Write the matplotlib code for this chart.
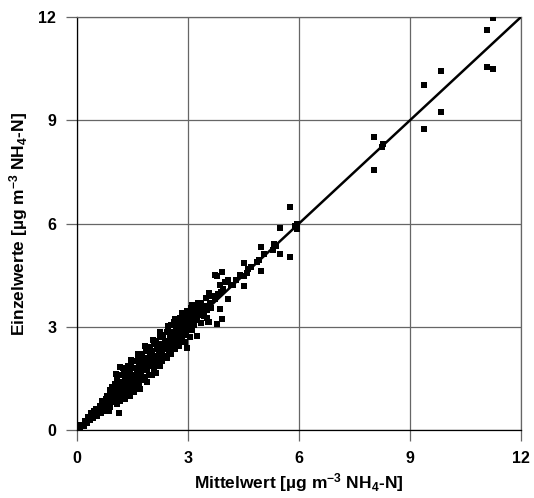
import matplotlib
matplotlib.use("Agg")
import matplotlib.pyplot as plt

plt.rcParams['font.family'] = ['Liberation Sans', 'DejaVu Sans']
plt.rcParams['font.weight'] = 'bold'
plt.rcParams['mathtext.fontset'] = 'custom'
plt.rcParams['mathtext.rm'] = 'Liberation Sans:bold'
plt.rcParams['mathtext.default'] = 'rm'

# Mittelwert (x) / Einzelwerte (y)
mittel = [
    0.08, 0.12, 0.18, 0.22, 0.28, 0.30, 0.35, 0.38, 0.42, 0.45,
    0.48, 0.52, 0.55, 0.58, 0.62, 0.65, 0.68, 0.70, 0.72, 0.75,
    0.78, 0.78, 0.82, 0.84, 0.86, 0.88, 0.90, 0.92, 0.95, 0.96,
    0.98, 1.02, 1.03, 1.05, 1.07, 1.08, 1.10, 1.12, 1.14, 1.15,
    1.16, 1.18, 1.19, 1.21, 1.22, 1.24, 1.26, 1.27, 1.29, 1.30,
    1.32, 1.34, 1.35, 1.37, 1.38, 1.39, 1.41, 1.42, 1.44, 1.45,
    1.47, 1.48, 1.50, 1.52, 1.53, 1.55, 1.56, 1.58, 1.59, 1.61,
    1.62, 1.64, 1.65, 1.67, 1.68, 1.70, 1.71, 1.73, 1.74, 1.76,
    1.77, 1.79, 1.81, 1.82, 1.84, 1.85, 1.87, 1.88, 1.90, 1.91,
    1.93, 1.94, 1.96, 1.97, 1.99, 2.01, 2.02, 2.04, 2.05, 2.07,
    2.08, 2.10, 2.11, 2.13, 2.14, 2.16, 2.18, 2.19, 2.21, 2.22,
    2.24, 2.25, 2.27, 2.28, 2.30, 2.31, 2.33, 2.35, 2.37, 2.38,
    2.41, 2.42, 2.44, 2.45, 2.47, 2.48, 2.50, 2.52, 2.53, 2.55,
    2.57, 2.58, 2.61, 2.62, 2.64, 2.66, 2.67, 2.69, 2.70, 2.72,
    2.74, 2.75, 2.77, 2.79, 2.81, 2.83, 2.84, 2.86, 2.88, 2.90,
    2.92, 2.94, 2.95, 2.96, 2.98, 2.99, 3.01, 3.03, 3.05, 3.07,
    3.08, 3.10, 3.12, 3.14, 3.15, 3.17, 3.19, 3.22, 3.24, 3.25,
    3.27, 3.30, 3.32, 3.34, 3.36, 3.38, 3.42, 3.45, 3.48, 3.50,
    3.52, 3.55, 3.57, 3.60, 3.63, 3.66, 3.73, 3.78, 3.78, 3.72,
    3.80, 3.86, 3.86, 3.90, 3.93, 3.93, 3.57, 3.95, 4.00, 4.07,
    4.09, 4.15, 4.22, 4.30, 4.40, 4.52, 4.52, 4.52, 4.60, 4.63,
    4.70, 4.87, 4.92, 4.96, 4.96, 5.05, 5.31, 5.33, 5.38, 5.49,
    5.49, 5.76, 5.76, 5.94, 5.94, 5.90, 8.03, 8.03, 8.28, 8.25,
    9.38, 9.38, 9.84, 9.84, 11.09, 11.25, 11.09, 11.25, 0.86, 1.84,
    1.05, 1.25, 1.45, 1.65, 1.85, 2.05, 2.25, 2.45, 2.65, 2.85,
]
einzel = [
    0.05, 0.15, 0.12, 0.25, 0.20, 0.38, 0.30, 0.50, 0.35, 0.55,
    0.45, 0.62, 0.40, 0.55, 0.70, 0.50, 0.85, 0.62, 0.75, 0.55,
    0.90, 0.70, 1.00, 0.75, 0.88, 1.15, 0.68, 0.95, 1.25, 0.82,
    1.05, 1.35, 0.90, 1.12, 0.75, 1.50, 1.00, 1.25, 0.50, 1.82,
    0.85, 1.40, 1.10, 1.60, 0.95, 1.30, 1.75, 1.15, 1.45, 0.90,
    1.62, 1.25, 1.05, 1.50, 1.85, 1.20, 1.40, 1.00, 1.70, 1.30,
    1.95, 1.15, 1.55, 1.35, 1.80, 1.10, 1.60, 1.45, 2.00, 1.25,
    1.70, 1.50, 2.10, 1.35, 1.85, 1.60, 1.20, 1.95, 1.70, 1.45,
    2.20, 1.80, 1.55, 2.05, 1.50, 1.90, 2.30, 1.40, 1.75, 2.10,
    1.95, 1.60, 2.40, 2.20, 1.85, 2.05, 1.60, 2.30, 1.90, 2.50,
    1.75, 2.15, 2.00, 2.60, 1.65, 2.35, 2.10, 1.90, 2.45, 2.25,
    1.85, 2.70, 2.05, 2.50, 2.30, 2.00, 2.75, 2.40, 2.15, 2.60,
    2.35, 2.85, 2.10, 2.55, 2.95, 2.30, 2.70, 2.45, 3.05, 2.20,
    2.65, 2.85, 3.15, 2.50, 2.75, 2.35, 2.95, 3.20, 2.60, 2.85,
    3.05, 2.45, 2.75, 3.25, 2.90, 2.60, 3.10, 3.35, 2.75, 3.00,
    2.55, 3.25, 2.85, 2.38, 3.45, 3.10, 2.95, 3.30, 2.70, 3.55,
    3.15, 3.62, 2.90, 3.40, 3.05, 3.30, 3.60, 3.45, 2.72, 3.20,
    3.70, 3.35, 3.55, 3.10, 3.68, 3.45, 3.30, 3.60, 3.85, 3.50,
    3.25, 3.15, 3.99, 3.70, 3.55, 3.90, 4.50, 4.47, 3.08, 3.80,
    3.95, 4.21, 3.53, 4.00, 4.60, 3.24, 3.15, 4.10, 4.31, 3.81,
    4.36, 4.20, 4.21, 4.35, 4.50, 4.86, 4.47, 4.18, 4.57, 4.68,
    4.75, 4.87, 4.94, 5.33, 4.62, 5.10, 5.23, 5.40, 5.35, 5.88,
    5.10, 6.47, 5.04, 6.00, 5.84, 5.92, 8.52, 7.54, 8.31, 8.23,
    10.02, 8.75, 10.44, 9.23, 11.62, 11.96, 10.56, 10.49, 0.56, 1.55,
    1.62, 1.80, 2.02, 2.22, 2.45, 2.62, 2.85, 3.02, 3.22, 3.40,
]
ticks = [0, 3, 6, 9, 12]

fig = plt.figure(figsize=(5.34, 4.98), dpi=100)
ax = fig.add_axes([0.1442, 0.1365, 0.8315, 0.8294])

ax.scatter(mittel, einzel, marker='s', s=16, color='black', linewidths=0, zorder=3)
ax.axline((0, 0), slope=1, color='black', linewidth=1.8, zorder=4)

ax.set_xlim(0, 12)
ax.set_ylim(0, 12)
ax.set_xticks(ticks)
ax.set_yticks(ticks)
ax.grid(True, color='#666666', linewidth=0.9)
ax.set_axisbelow(True)

for side in ['top', 'right']:
    ax.spines[side].set_color('#666666')
    ax.spines[side].set_linewidth(0.9)
for side in ['left', 'bottom']:
    ax.spines[side].set_color('black')
    ax.spines[side].set_linewidth(0.9)

ax.tick_params(direction='out', length=8, width=0.9, color='#666666',
               labelsize=11.5, pad=7)
for lab in ax.get_xticklabels() + ax.get_yticklabels():
    lab.set_fontweight('bold')

ax.set_xlabel(r'Mittelwert [µg m$^{-3}$ NH$_4$-N]', fontsize=12.5,
              fontweight='bold', labelpad=4)
ax.set_ylabel(r'Einzelwerte [µg m$^{-3}$ NH$_4$-N]', fontsize=12.5,
              fontweight='bold', labelpad=6)

fig.savefig('out.png', dpi=100, facecolor='white')
